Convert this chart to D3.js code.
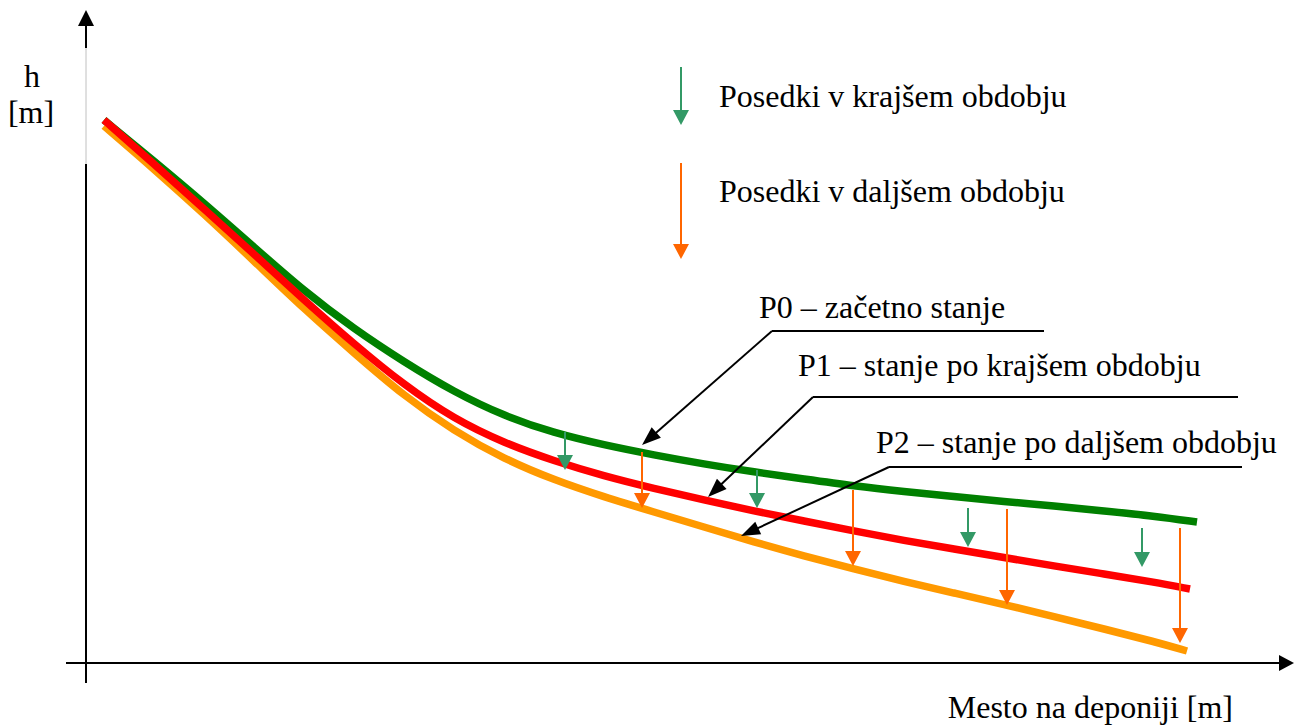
<!DOCTYPE html>
<html><head><meta charset="utf-8">
<script src="https://cdn.jsdelivr.net/npm/d3@7"></script>
<style>html,body{margin:0;padding:0;background:#fff;}svg{display:block;}</style>
</head><body>
<script>
// ---- data (x: position along landfill, y: height h) ----
const xPos = [0,5,10,15,20,25,30,35,40,45,50,55,60,65,70,75,80,85,90,95,100,105];
const p0Values = [54.2,50.1,45.9,41.5,37.1,33.3,30.0,27.0,24.6,22.9,21.7,20.7,19.8,19.0,18.3,17.6,17.05,16.55,16.05,15.6,15.1,14.6];
const p1Values = [54.2,49.8,45.3,40.8,36.2,31.8,27.7,24.3,21.9,20.1,18.6,17.35,16.2,15.1,14.1,13.1,12.15,11.3,10.45,9.6,8.8,8.0];
const p2Values = [53.6,49.3,44.8,40.1,35.3,30.9,26.6,23.1,20.3,18.2,16.5,15.0,13.5,12.0,10.6,9.3,8.05,6.9,5.75,4.55,3.3,2.05];
const endX = [109.3, 108.6, 108.3];
const endY = [14.0, 7.3, 1.1];
const seriesNames = ["P0 – začetno stanje","P1 – stanje po krajšem obdobju","P2 – stanje po daljšem obdobju"];
const seriesColors = ["#008000","#ff0000","#ff9900"];

const shortX = [46.1, 65.3, 86.4, 103.8];
const shortFrom = [23.0, 19.2, 15.4, 13.4];
const shortTo = [19.2, 15.4, 11.5, 9.5];
const longX = [53.8, 74.9, 90.3, 107.6];
const longFrom = [21.0, 17.2, 15.3, 13.4];
const longTo = [15.4, 9.6, 5.7, 1.9];

const pointerX = [53.8, 60.4, 63.7];
const pointerY = [21.7, 16.5, 12.6];

const legendLabels = ["Posedki v krajšem obdobju","Posedki v daljšem obdobju"];
const xTitle = "Mesto na deponiji [m]";
const yTitle = ["h","[m]"];

// ---- drawing ----
const W = 1295, H = 726;
const svg = d3.select("body").append("svg").attr("width", W).attr("height", H);
const x = d3.scaleLinear().domain([0, 110]).range([104, 1204]);
const y = d3.scaleLinear().domain([0, 65]).range([662, 12]);
const font = "'Liberation Serif','Times New Roman',serif";
const shortColor = "#339966", longColor = "#ff6600";

// axes
const ax = 86, ay = 663;
svg.append("line").attr("x1", ax).attr("x2", ax).attr("y1", 24).attr("y2", 48).attr("stroke", "#000").attr("stroke-width", 2);
svg.append("line").attr("x1", ax).attr("x2", ax).attr("y1", 48).attr("y2", 164).attr("stroke", "#c0c0c0").attr("stroke-width", 1);
svg.append("line").attr("x1", ax).attr("x2", ax).attr("y1", 164).attr("y2", 683).attr("stroke", "#000").attr("stroke-width", 2);
svg.append("path").attr("d", `M${ax},10 L${ax-8},26 L${ax+8},26 Z`).attr("fill", "#000");
svg.append("line").attr("x1", 66).attr("x2", 1282).attr("y1", ay).attr("y2", ay).attr("stroke", "#000").attr("stroke-width", 2);
svg.append("path").attr("d", `M1294,${ay} L1279,${ay-8} L1279,${ay+8} Z`).attr("fill", "#000");

// axis titles
svg.append("text").attr("x", 32).attr("y", 87).attr("text-anchor", "middle").attr("font-family", font).attr("font-size", 32).text(yTitle[0]);
svg.append("text").attr("x", 31).attr("y", 123).attr("text-anchor", "middle").attr("font-family", font).attr("font-size", 32).text(yTitle[1]);
svg.append("text").attr("x", 1233).attr("y", 718).attr("text-anchor", "end").attr("font-family", font).attr("font-size", 32).text(xTitle);

// curves
const line = d3.line().x(d => x(d[0])).y(d => y(d[1])).curve(d3.curveBasis);
const series = [p0Values, p1Values, p2Values].map((vals, i) => {
  const pts = xPos.map((xv, j) => [xv, vals[j]]);
  pts.push([endX[i], endY[i]]);
  return pts;
});
[0, 2, 1].forEach(i => {
  svg.append("path").attr("d", line(series[i])).attr("fill", "none")
    .attr("stroke", seriesColors[i]).attr("stroke-width", 7.5).attr("stroke-linecap", "butt");
});

// vertical settlement arrows
function vArrow(px, y1, y2, color) {
  const hl = 15, hw = 8;
  svg.append("line").attr("x1", px).attr("x2", px).attr("y1", y1).attr("y2", y2 - hl + 1)
    .attr("stroke", color).attr("stroke-width", 2);
  svg.append("path").attr("d", `M${px},${y2} L${px-hw},${y2-hl} L${px+hw},${y2-hl} Z`).attr("fill", color);
}
shortX.forEach((xv, i) => vArrow(x(xv), y(shortFrom[i]), y(shortTo[i]), shortColor));
longX.forEach((xv, i) => vArrow(x(xv), y(longFrom[i]), y(longTo[i]), longColor));

// legend
vArrow(681, 67, 125, shortColor);
vArrow(681, 163, 259, longColor);
svg.append("text").attr("x", 719).attr("y", 107).attr("font-family", font).attr("font-size", 32).text(legendLabels[0]);
svg.append("text").attr("x", 719).attr("y", 202).attr("font-family", font).attr("font-size", 32).text(legendLabels[1]);

// labelled pointers
const labelLayout = [
  {tx: 759, ty: 318, ux1: 772, ux2: 1044, uy: 331},
  {tx: 798, ty: 376, ux1: 813, ux2: 1238, uy: 397},
  {tx: 876, ty: 453, ux1: 889, ux2: 1242, uy: 467}
];
labelLayout.forEach((L, i) => {
  svg.append("text").attr("x", L.tx).attr("y", L.ty).attr("font-family", font).attr("font-size", 32).text(seriesNames[i]);
  svg.append("line").attr("x1", L.ux1).attr("x2", L.ux2).attr("y1", L.uy).attr("y2", L.uy).attr("stroke", "#000").attr("stroke-width", 2);
  const tx = x(pointerX[i]), ty = y(pointerY[i]);
  const dx = tx - L.ux1, dy = ty - L.uy, len = Math.hypot(dx, dy);
  const ux = dx / len, uy = dy / len, hl = 19, hw = 7;
  const bx = tx - ux * hl, by = ty - uy * hl;
  svg.append("line").attr("x1", L.ux1).attr("y1", L.uy).attr("x2", bx + ux).attr("y2", by + uy).attr("stroke", "#000").attr("stroke-width", 2);
  svg.append("path").attr("d", `M${tx},${ty} L${bx - uy*hw},${by + ux*hw} L${bx + uy*hw},${by - ux*hw} Z`).attr("fill", "#000");
});
</script>
</body></html>
